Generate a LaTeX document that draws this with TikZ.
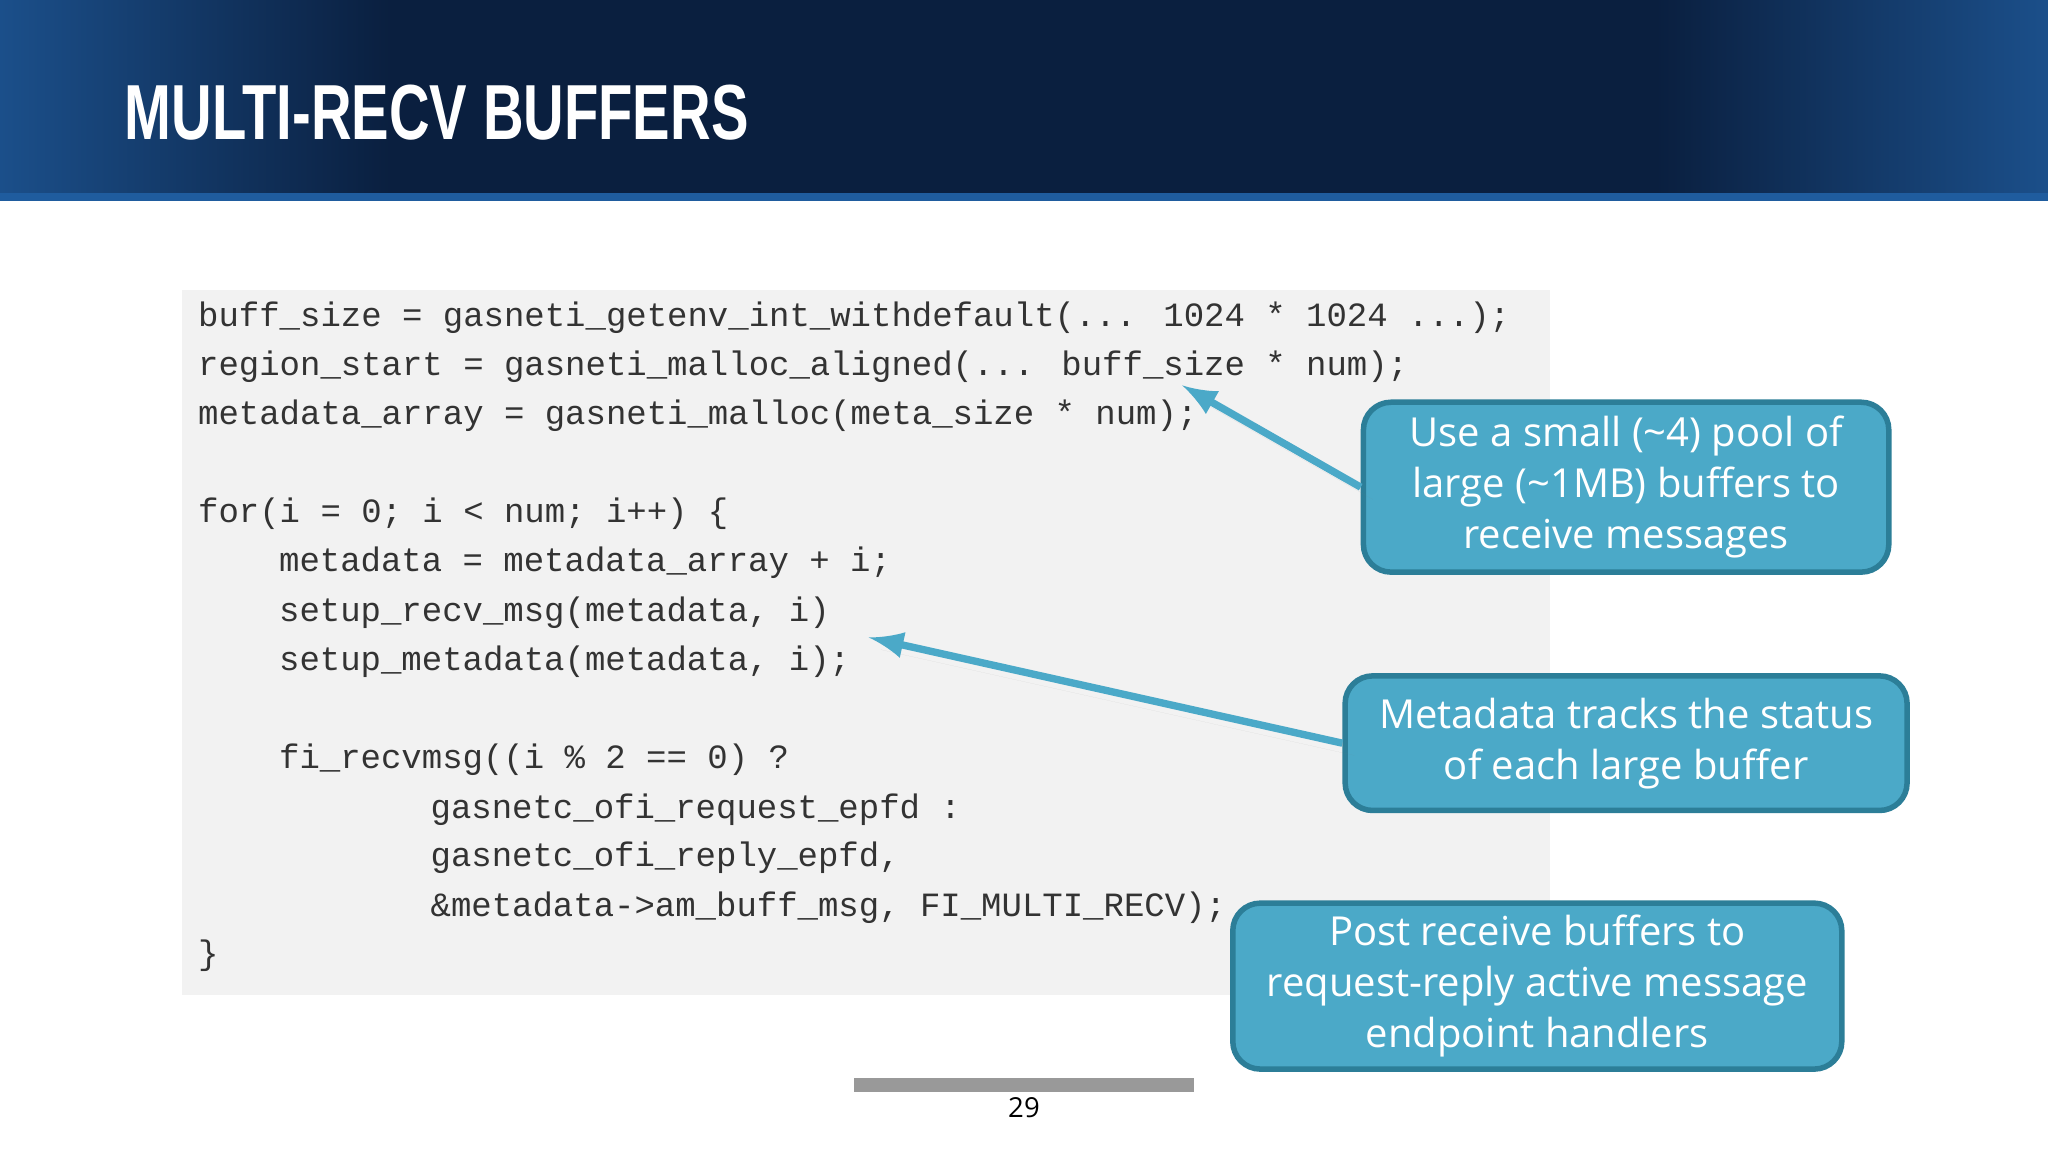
\documentclass[tikz,border=0pt]{standalone}
\usepackage{fontspec}
\setmainfont{Open Sans}
\newfontfamily\codefont{Liberation Mono}
\newfontfamily\titlefont{Liberation Sans}
\usetikzlibrary{shadows}
\definecolor{callfill}{HTML}{4BA9C8}
\definecolor{calldraw}{HTML}{2C7E98}
\definecolor{codebg}{HTML}{F2F2F2}
\definecolor{bannerdark}{HTML}{0A1F3F}
\definecolor{bannerside}{HTML}{1B4F8A}
\definecolor{bannerline}{HTML}{1F5C9E}
\tikzset{
  code/.style={anchor=west, inner sep=0pt, font=\codefont\fontsize{7.4pt}{9pt}\selectfont, text=black!80},
  callout/.style={draw=calldraw, line width=1.2pt, fill=callfill, rounded corners=6pt,
    text=white, align=center, font=\fontsize{8.7pt}{11.1pt}\selectfont, inner sep=0pt},
  pointer/.style={draw=callfill, line width=1.6pt, -latex, drop shadow={opacity=0.3}},
}
\begin{document}
\begin{tikzpicture}[x=0.01cm,y=-0.01cm]
\useasboundingbox (0,0) rectangle (1568,882);
\fill[white] (0,0) rectangle (1568,882);
% banner
\fill[bannerdark] (0,0) rectangle (1568,150);
\shade[left color=bannerside, right color=bannerdark] (0,0) rectangle (300,150);
\shade[left color=bannerdark, right color=bannerside] (1268,0) rectangle (1568,150);
\fill[bannerline] (0,148) rectangle (1568,154);
\node[anchor=west, text=white, inner sep=0pt] (title) at (95,86)
  {\scalebox{0.72}[1]{\titlefont\bfseries\fontsize{17pt}{20pt}\selectfont MULTI-RECV BUFFERS}};

% code block
\fill[codebg] (139,222) rectangle (1187,762);
\node[code] (l1) at (151,243) {buff\_size = gasneti\_getenv\_int\_withdefault(... 1024 * 1024 ...);};
\node[code] (l2) at (151,281) {region\_start = gasneti\_malloc\_aligned(... buff\_size * num);};
\node[code] (l3) at (151,318) {metadata\_array = gasneti\_malloc(meta\_size * num);};
\node[code] (l4) at (151,393) {for(i = 0; i < num; i++) \{};
\node[code] (l5) at (213,431) {metadata = metadata\_array + i;};
\node[code] (l6) at (213,469) {setup\_recv\_msg(metadata, i)};
\node[code] (l7) at (213,507) {setup\_metadata(metadata, i);};
\node[code] (l8) at (213,582) {fi\_recvmsg((i \% 2 == 0) ?};
\node[code] (l9) at (329,620) {gasnetc\_ofi\_request\_epfd :};
\node[code] (l10) at (329,657) {gasnetc\_ofi\_reply\_epfd,};
\node[code] (l11) at (329,695) {\&metadata->am\_buff\_msg, FI\_MULTI\_RECV);};
\node[code] (l12) at (151,732) {\}};

% callouts
\node[callout, minimum width=4.02cm, minimum height=1.30cm] (pool) at (1245,373)
  {Use a small (\textasciitilde4) pool of\\large (\textasciitilde1MB) buffers to\\receive messages};
\node[callout, minimum width=4.30cm, minimum height=1.03cm] (meta) at (1245,569)
  {Metadata tracks the status\\of each large buffer};
\node[callout, minimum width=4.66cm, minimum height=1.27cm] (post) at (1177,755)
  {Post receive buffers to\\request-reply active message\\endpoint handlers};

\coordinate (sizeend) at (905,295);
\coordinate (recvend) at (665,488);
\draw[pointer] (pool.west) -- (sizeend);
\draw[pointer] (meta.west) -- (recvend);

% footer
\draw[gray!80, line width=3pt] (654,831) -- (914,831);
\node[font=\fontsize{6pt}{7pt}\selectfont] (page) at (784,848) {29};
\end{tikzpicture}
\end{document}
